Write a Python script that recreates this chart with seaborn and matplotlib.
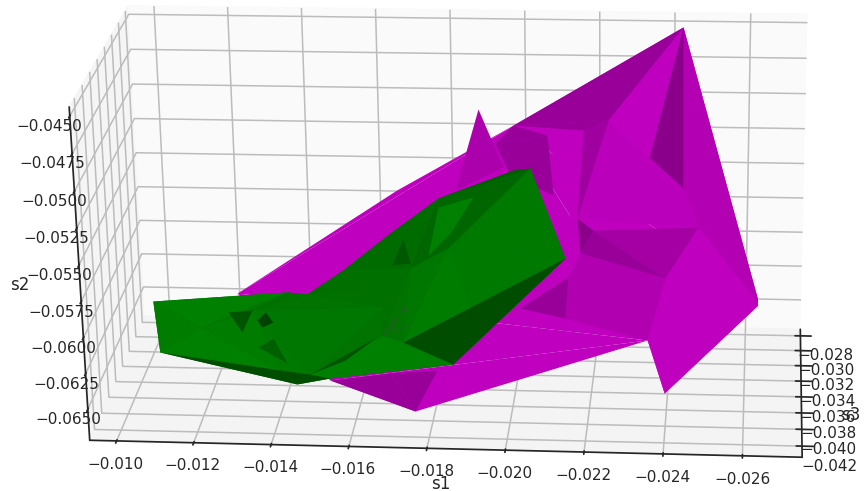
import matplotlib
matplotlib.use("Agg")
import matplotlib.pyplot as plt
import seaborn as sns
from mpl_toolkits.mplot3d.art3d import Poly3DCollection

s1_ticks = [-0.010, -0.012, -0.014, -0.016, -0.018, -0.020, -0.022, -0.024, -0.026]
s3_ticks = [-0.028, -0.030, -0.032, -0.034, -0.036, -0.038, -0.040, -0.042]
s2_ticks = [-0.045, -0.0475, -0.050, -0.0525, -0.055, -0.0575, -0.060, -0.0625, -0.065]

# magenta surface, vertices
m_names = ["a", "b", "c", "d", "e", "f", "g", "h", "i", "j", "k", "l", "m", "n", "o",
           "p", "q", "r", "s", "t", "u", "w", "x", "y", "z", "aa", "b1", "b2", "b3", "f2"]
m_s1 = [-0.02426, -0.02635, -0.02397, -0.02394, -0.02475, -0.02157, -0.02234, -0.02168, -0.01981, -0.01884,
        -0.02351, -0.01759, -0.01242, -0.01668, -0.02340, -0.02433, -0.02074, -0.02168, -0.02134, -0.02013,
        -0.02139, -0.01824, -0.01953, -0.01534, -0.01813, -0.01691, -0.01932, -0.02092, -0.01975, -0.02202]
m_s2 = [-0.04379, -0.06116, -0.06485, -0.05788, -0.05531, -0.05582, -0.04986, -0.05059, -0.05077, -0.05013,
        -0.06170, -0.06594, -0.06218, -0.05552, -0.05236, -0.05359, -0.05098, -0.05779, -0.06136, -0.06125,
        -0.05898, -0.05545, -0.05375, -0.06445, -0.06357, -0.06386, -0.05206, -0.05472, -0.05384, -0.05615]
m_s3 = [-0.031, -0.035, -0.040, -0.038, -0.036, -0.034, -0.032, -0.032, -0.031, -0.030,
        -0.039, -0.041, -0.033, -0.031, -0.033, -0.034, -0.032, -0.035, -0.037, -0.036,
        -0.036, -0.031, -0.031, -0.040, -0.040, -0.040, -0.031, -0.033, -0.032, -0.035]
m_tris = ["i a b", "i b k", "i k m", "m n i", "m k y", "y k l", "b c k", "y l aa", "aa l z", "i a g", "i g h",
          "b1 i q", "b1 q b2", "b1 b2 b3", "j w x", "a b e", "a p e", "g a o", "a o p", "g o p", "g p e", "g e f",
          "h g f", "q h f", "q f r", "f2 e d", "f f2 r", "f2 r d", "u d k", "u k s", "t u s", "r d u",
          "e b d", "d b c", "d c k"]
m_tones = [1, 1, 1, 1, 1, 1, 1, .8, .8, .8, .8,
           .8, .8, .8, .9, .93, .93, 1, .72, .97, .97, .97,
           .83, 1, 1, .86, .72, .8, .92, .92, .8, .92,
           1, 1, 1]

# green surface, vertices
g_names = ["g0", "g1", "g2", "g3", "g4", "g5", "g6", "g6b", "g7", "g8", "g9", "g10", "g11", "g13",
           "g14", "g15", "d1", "d2", "d3", "d4", "g16", "g17", "g18", "g19", "g19b", "g19c", "g20", "g21",
           "g22", "g23", "g24", "g24b", "g24c", "g24d", "g26", "g27", "g28", "g30", "g31", "k1", "k2", "k3"]
g_s1 = [-0.01081, -0.01102, -0.01455, -0.01541, -0.01854, -0.02138, -0.02046, -0.02003, -0.01809, -0.01682,
        -0.01563, -0.01467, -0.01415, -0.01267, -0.01301, -0.01330, -0.01364, -0.01383, -0.01354, -0.01342,
        -0.01201, -0.01412, -0.01490, -0.01390, -0.01350, -0.01424, -0.01726, -0.01673, -0.01743, -0.01837,
        -0.01903, -0.01813, -0.01843, -0.01785, -0.01896, -0.01671, -0.01620, -0.01659, -0.01575, -0.01721,
        -0.01744, -0.01697]
g_s2 = [-0.05913, -0.06216, -0.06421, -0.06374, -0.06313, -0.05662, -0.05094, -0.05110, -0.05311, -0.05561,
        -0.05775, -0.05949, -0.05937, -0.06033, -0.06173, -0.06016, -0.06028, -0.06098, -0.06135, -0.06086,
        -0.06089, -0.06325, -0.06349, -0.06156, -0.06222, -0.06331, -0.06165, -0.06119, -0.05700, -0.05607,
        -0.05252, -0.05324, -0.05503, -0.05659, -0.05964, -0.05976, -0.05860, -0.06134, -0.06301, -0.05543,
        -0.05665, -0.05681]
g_s3 = [-0.040, -0.041, -0.041, -0.041, -0.040, -0.038, -0.037, -0.037, -0.037, -0.037,
        -0.038, -0.038, -0.038, -0.039, -0.039, -0.039, -0.039, -0.039, -0.039, -0.039,
        -0.040, -0.041, -0.041, -0.040, -0.040, -0.040, -0.040, -0.040, -0.039, -0.038,
        -0.038, -0.038, -0.038, -0.038, -0.039, -0.039, -0.039, -0.040, -0.040, -0.038,
        -0.039, -0.039]
g_tris = ["g21 g0 g11", "g21 g1 g0", "g21 g2 g1", "g21 g11 g10", "g21 g10 g9", "g21 g9 g8", "g21 g8 g7",
          "g21 g7 g6b", "g21 g6b g6", "g21 g6 g5", "g21 g5 g4", "g21 g4 g3", "g21 g3 g2",
          "g0 g11 g16", "g0 g16 g1", "g1 g16 g17", "g16 g11 g15", "g16 g15 g17",
          "g15 g11 g10", "g15 g10 g27", "g15 g27 g18", "g15 g18 g17",
          "g10 g9 g28", "g10 g28 g27", "g9 g8 g22", "g9 g22 g27", "g8 g7 g22",
          "g1 g17 g2", "g17 g18 g2", "g18 g3 g2",
          "g27 g22 g21", "g22 g23 g21", "g27 g21 g18",
          "g18 g21 g4", "g18 g4 g3", "g21 g20 g4", "g18 g30 g31",
          "g7 g6 g23", "g7 g6b g6", "g7 g23 g22",
          "g23 g6 g5", "g22 g23 g20", "g23 g5 g20", "g23 g26 g20",
          "g20 g5 g4", "g24b g24 g24c", "g24b g24c g24d", "k1 k2 k3",
          "g13 g15 g14", "d1 d2 d3", "d1 d3 d4", "g19b g19 g19c"]
g_tones = [.9, .9, .9, .9, .9, .9, .9, .9, .9, .9, .9, .9, .9,
           1, .97, 1, .93, .97,
           .88, .9, .93, .95,
           .87, .88, .85, .88, .85,
           .6, .6, .6,
           .88, .9, .9,
           1, 1, 1, .65,
           .8, .72, .8,
           .95, .93, .95, .98,
           .6, 1, 1, .7,
           .65, .5, .5, .75]


def draw_surface(ax, names, s1, s3, s2, tris, tones, color, zorder):
    points = dict(zip(names, zip(s1, s3, s2)))
    for tri, tone in zip(tris, tones):
        verts = [points[name] for name in tri.split()]
        face = tuple(tone * c for c in color)
        ax.add_collection3d(Poly3DCollection([verts], facecolor=face, linewidth=0, zorder=zorder), autolim=False)
        zorder += 1
    return zorder


def main() -> None:
    sns.set_theme(style="white", rc={"grid.color": "#bcbcbc", "grid.linewidth": 1.1})
    plt.rcParams["font.family"] = ["DejaVu Sans"]
    fig = plt.figure(figsize=(8.66, 4.91), dpi=100)
    side = 623
    cx, cy = 454, 491 - 224
    ax = fig.add_axes([(cx - 0.5135 * side) / 866, (cy - 0.5135 * side) / 491, side / 866, side / 491],
                      projection="3d", computed_zorder=False)
    ax.view_init(elev=21.5, azim=-84.5, roll=1.0)
    ax.set_box_aspect((710, 318, 354), zoom=1.31)
    ax.set_xlim(-0.0093, -0.0275)
    ax.set_ylim(-0.0433, -0.0271)
    ax.set_zlim(-0.0672, -0.0444)
    ax.set_xticks(s1_ticks)
    ax.set_yticks(s3_ticks)
    ax.set_zticks(s2_ticks)
    ax.tick_params(labelsize=11)
    ax.tick_params(axis="x", pad=0)
    ax.tick_params(axis="y", pad=1)
    ax.tick_params(axis="z", pad=-2)
    ax.xaxis.set_pane_color((0.96, 0.96, 0.96, 1))
    ax.yaxis.set_pane_color((0.98, 0.98, 0.98, 1))
    ax.zaxis.set_pane_color((0.955, 0.955, 0.955, 1))
    ax.zaxis.set_ticks_position("lower")
    ax.zaxis.set_label_position("lower")
    ax.zaxis.set_rotate_label(False)
    ax.set_xlabel("s1", labelpad=-3)
    ax.set_ylabel("s3", labelpad=-4)
    ax.set_zlabel("s2", labelpad=-3, rotation=0)

    # painter's order: magenta first, green on top
    zo = draw_surface(ax, m_names, m_s1, m_s3, m_s2, m_tris, m_tones, (0.75, 0, 0.75), 3)
    draw_surface(ax, g_names, g_s1, g_s3, g_s2, g_tris, g_tones, (0, 0.5, 0), zo)

    fig.savefig("out.png", dpi=100)


if __name__ == "__main__":
    main()
